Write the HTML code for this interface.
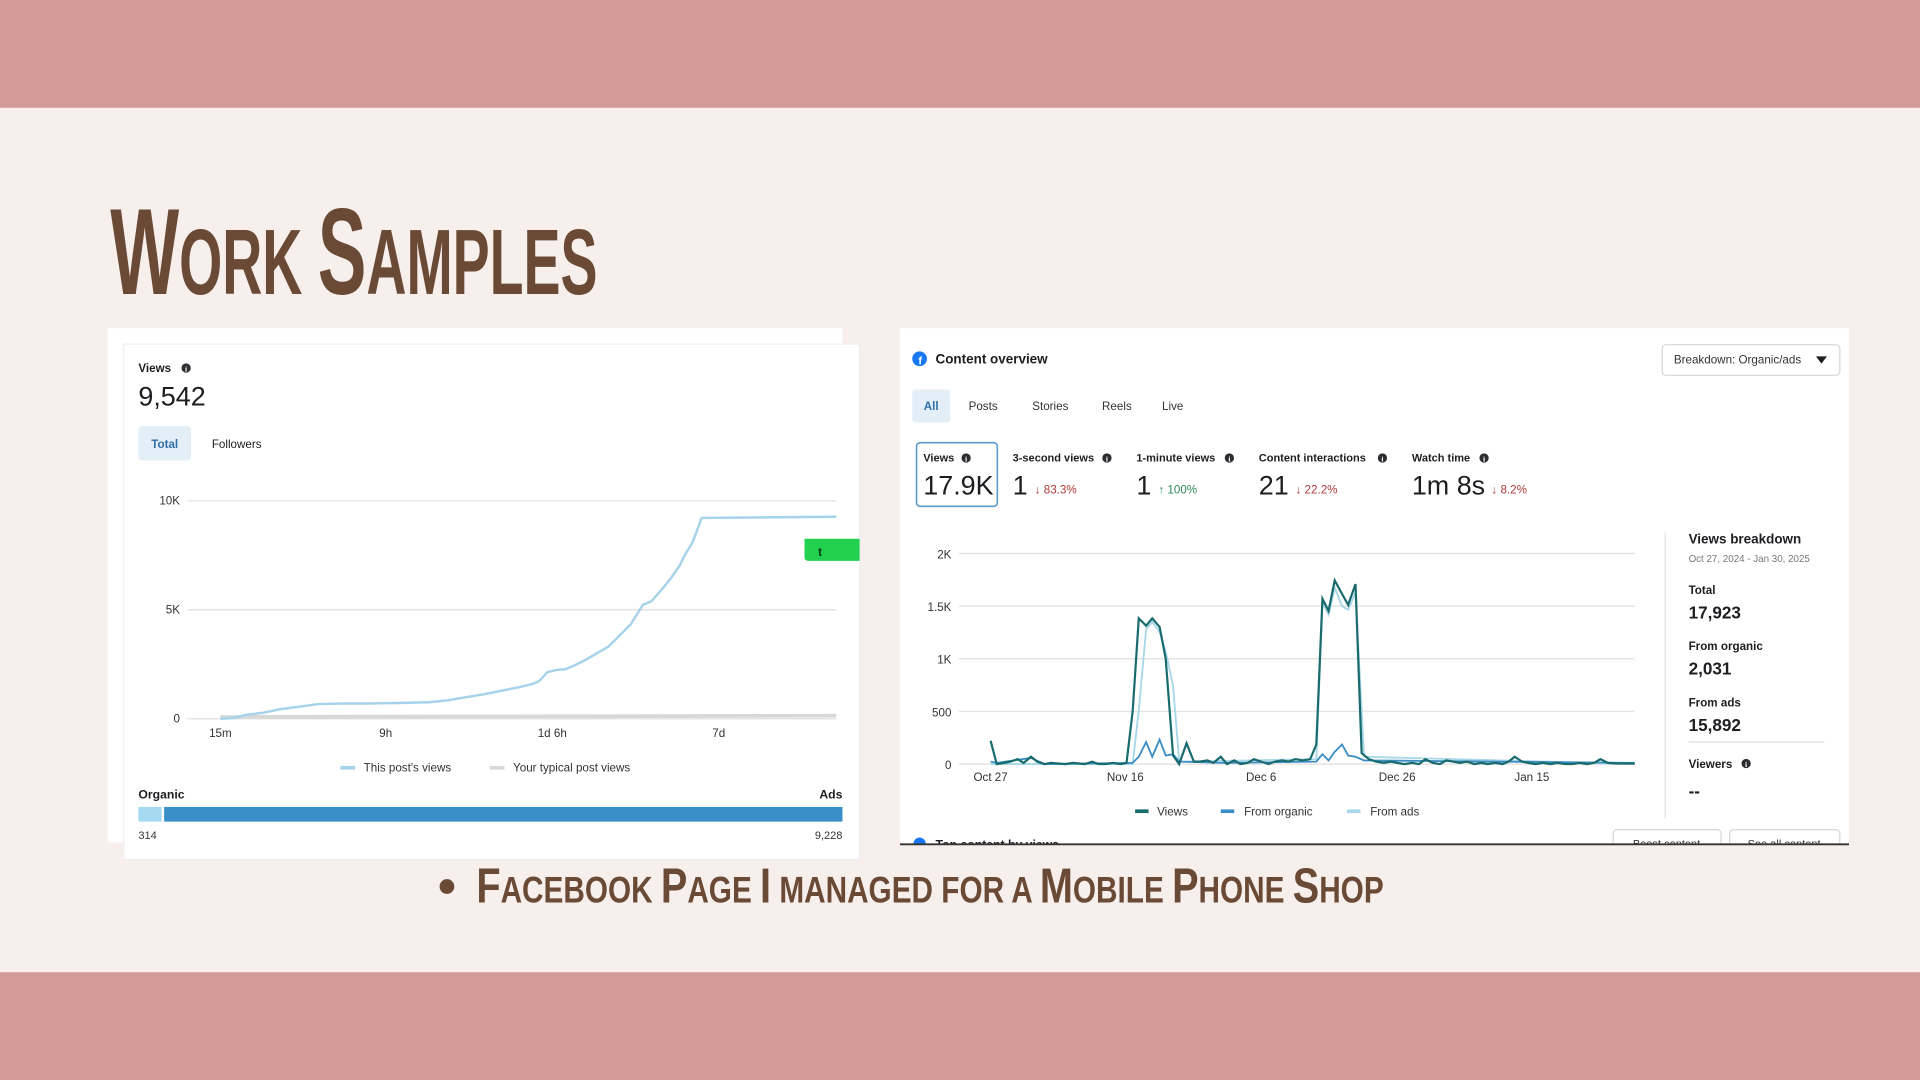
<!DOCTYPE html>
<html><head><meta charset="utf-8"><style>
html,body{margin:0;padding:0;background:#f7efec;}
svg{display:block;}
text{font-family:"Liberation Sans",sans-serif;}
</style></head><body>
<svg width="1920" height="1080" viewBox="0 0 1568 882" xmlns="http://www.w3.org/2000/svg">
<defs>
<symbol id="info" viewBox="-5 -5 10 10"><circle r="4.2" fill="#2b2d31"/><text x="0" y="3" font-size="7" fill="#fff" text-anchor="middle" font-weight="bold" style="font-family:'Liberation Serif',serif">i</text></symbol>
</defs>
<rect width="1568" height="882" fill="#f7efec"/>
<rect width="1568" height="88" fill="#d49a98"/>
<rect y="794" width="1568" height="88" fill="#d49a98"/>

<text x="90" y="240" fill="#6a4a35" font-weight="bold" textLength="398" lengthAdjust="spacingAndGlyphs" style="font-family:'Liberation Sans Narrow','Liberation Sans',sans-serif"><tspan font-size="100">W</tspan><tspan font-size="76">ORK </tspan><tspan font-size="100">S</tspan><tspan font-size="76">AMPLES</tspan></text>

<rect x="88" y="268" width="600" height="420" fill="#fff"/>
<rect x="101" y="281" width="601" height="421" fill="#fff" stroke="#eeeef2" stroke-width="1"/>
<text x="113" y="304" font-size="9.5" font-weight="bold" fill="#1c1e21">Views</text>
<use href="#info" x="147.5" y="296" width="9" height="9"/>
<text x="113" y="331" font-size="22" fill="#1c1e21">9,542</text>
<rect x="113" y="348" width="43" height="28" rx="3" fill="#e4eef7"/>
<text x="134.5" y="366" font-size="9.5" font-weight="bold" fill="#2f6fab" text-anchor="middle">Total</text>
<text x="173" y="366" font-size="9.5" fill="#1c1e21">Followers</text>
<g stroke="#e4e4e4" stroke-width="1.2">
<line x1="153" y1="409" x2="683" y2="409"/><line x1="153" y1="498" x2="683" y2="498"/><line x1="153" y1="587" x2="683" y2="587"/>
</g>
<g font-size="9.5" fill="#333" text-anchor="end"><text x="147" y="412">10K</text><text x="147" y="501">5K</text><text x="147" y="590">0</text></g>
<g font-size="9.5" fill="#333" text-anchor="middle"><text x="180" y="602">15m</text><text x="315" y="602">9h</text><text x="451" y="602">1d 6h</text><text x="587" y="602">7d</text></g>
<line x1="180" y1="585.5" x2="683" y2="584.5" stroke="#d8d8d8" stroke-width="3"/>
<polyline fill="none" stroke="#a6d3ea" stroke-width="2" points="180,587 190,586.5 200,584 215,582 230,579 245,577 260,575 280,574.5 300,574.5 330,574 350,573.5 365,572 380,569.5 395,567 410,564 425,561 435,558.5 440,556.5 447,549 455,547 462,546.5 470,543 478,539 490,532 497,528 505,520 515,510 525,494 532,491 540,482 548,472 555,462 560,452 565,444 569,434 573,423 683,422"/>
<path d="M657,440 H702 V458 H660 Q657,458 657,455 Z" fill="#22d14f"/>
<text x="668" y="454" font-size="10" fill="#0a3d15" font-weight="bold">t</text>
<rect x="278" y="625.5" width="12" height="3" fill="#a6d3ea"/>
<text x="297" y="630" font-size="9.5" fill="#333">This post's views</text>
<rect x="400" y="625.5" width="12" height="3" fill="#d8d8d8"/>
<text x="419" y="630" font-size="9.5" fill="#333">Your typical post views</text>
<text x="113" y="652" font-size="10" font-weight="bold" fill="#1c1e21">Organic</text>
<text x="688" y="652" font-size="10" font-weight="bold" fill="#1c1e21" text-anchor="end">Ads</text>
<rect x="113" y="659" width="19" height="12" fill="#a6d8f0"/>
<rect x="134" y="659" width="554" height="12" fill="#3a8fc8"/>
<text x="113" y="685" font-size="9" fill="#333">314</text>
<text x="688" y="685" font-size="9" fill="#333" text-anchor="end">9,228</text>

<rect x="735" y="268" width="775" height="421" fill="#fff"/>
<circle cx="751" cy="293" r="6" fill="#1877f2"/><text x="751.5" y="297.5" font-size="9" font-weight="bold" fill="#fff" text-anchor="middle">f</text>
<text x="764" y="297" font-size="11" font-weight="bold" fill="#1c1e21">Content overview</text>
<rect x="1357.5" y="281.5" width="145" height="25" rx="3" fill="#fff" stroke="#d6d6d6"/>
<text x="1367" y="297" font-size="9.5" fill="#333">Breakdown: Organic/ads</text>
<path d="M1483,291 h9 l-4.5,6 z" fill="#1c1e21"/>
<rect x="745" y="318" width="31" height="27" rx="3" fill="#e4eef7"/>
<text x="760.5" y="335" font-size="9.5" fill="#2f6fab" text-anchor="middle" font-weight="bold">All</text>
<g font-size="9.5" fill="#333"><text x="791" y="335">Posts</text><text x="843" y="335">Stories</text><text x="900" y="335">Reels</text><text x="949" y="335">Live</text></g>
<rect x="748.5" y="361.5" width="66" height="52" rx="3" fill="#fff" stroke="#5a9bc9" stroke-width="1.3"/>
<g font-size="9" font-weight="bold" fill="#1c1e21"><text x="754" y="377">Views</text><text x="827" y="377">3-second views</text><text x="928" y="377">1-minute views</text><text x="1028" y="377">Content interactions</text><text x="1153" y="377">Watch time</text></g>
<use href="#info" x="784.5" y="369.5" width="9" height="9"/>
<use href="#info" x="899.5" y="369.5" width="9" height="9"/>
<use href="#info" x="999.5" y="369.5" width="9" height="9"/>
<use href="#info" x="1124.5" y="369.5" width="9" height="9"/>
<use href="#info" x="1207.5" y="369.5" width="9" height="9"/>
<g font-size="22" fill="#1c1e21"><text x="754" y="404">17.9K</text><text x="827" y="404">1</text><text x="928" y="404">1</text><text x="1028" y="404">21</text><text x="1153" y="404">1m 8s</text></g>
<g font-size="9.5" fill="#b23a3a"><text x="845" y="403">↓ 83.3%</text><text x="1058" y="403">↓ 22.2%</text><text x="1218" y="403">↓ 8.2%</text></g>
<text x="946" y="403" font-size="9.5" fill="#2e8b57">↑ 100%</text>
<g stroke="#e4e4e4" stroke-width="1.2">
<line x1="783" y1="452" x2="1335" y2="452"/><line x1="783" y1="495" x2="1335" y2="495"/><line x1="783" y1="538" x2="1335" y2="538"/><line x1="783" y1="581" x2="1335" y2="581"/><line x1="783" y1="624" x2="1335" y2="624"/>
</g>
<g font-size="9.5" fill="#333" text-anchor="end"><text x="777" y="456">2K</text><text x="777" y="499">1.5K</text><text x="777" y="542">1K</text><text x="777" y="585">500</text><text x="777" y="628">0</text></g>
<g font-size="9.5" fill="#333" text-anchor="middle"><text x="809" y="638">Oct 27</text><text x="919" y="638">Nov 16</text><text x="1030" y="638">Dec 6</text><text x="1141" y="638">Dec 26</text><text x="1251" y="638">Jan 15</text></g>
<polyline fill="none" stroke="#a7d7e8" stroke-width="1.5" points="809,624 925,624 930,580 936,514 941,508 947,516 952,532 958,560 963,622 1075,620 1080,492 1085,502 1090,480 1096,495 1101,498 1107,484 1114,618 1335,624"/>
<polyline fill="none" stroke="#3d8ec4" stroke-width="1.5" points="809,622 814,623 842,619 853,624 925,623 930,618 936,606 941,618 947,604 952,617 958,616 963,622 1000,623 1075,622 1080,616 1085,621 1090,614 1096,608 1101,617 1107,618 1114,621 1335,623"/>
<polyline fill="none" stroke="#1a6b6e" stroke-width="1.8" points="809,605 814,624 820,623 825,622 831,620 836,623 842,618 847,622 853,624 858,623 864,623.5 870,624 876,623 881,623.5 886,624 892,622 897,624 903,624 909,623 915,624 920,623 925,581 930,505 936,511 941,505 947,512 952,538 958,617 963,624 969,607 975,622 980,622 986,621 991,623 997,618 1002,624 1008,621 1013,624 1019,623 1024,620 1030,622 1036,624 1041,622 1047,621 1052,622 1058,620 1064,621 1070,620 1075,608 1080,489 1085,499 1090,474 1096,485 1101,494 1107,477 1112,615 1118,620 1124,622 1130,623 1136,622 1141,623 1147,624 1153,623 1159,624 1164,620 1170,623 1176,624 1181,621 1187,622 1192,623 1198,622 1204,624 1210,623 1215,624 1221,623 1227,624 1232,622 1237,618 1243,622 1248,623 1254,624 1260,623 1266,624 1272,623 1278,624 1284,624 1290,623 1296,624 1302,623 1307,620 1313,623 1320,623.5 1335,623.5"/>
<line x1="1360" y1="435" x2="1360" y2="668" stroke="#e0e0e0"/>
<text x="1379" y="444" font-size="11" font-weight="bold" fill="#1c1e21">Views breakdown</text>
<text x="1379" y="459" font-size="8" fill="#777">Oct 27, 2024 - Jan 30, 2025</text>
<g font-size="9.5" font-weight="bold" fill="#1c1e21"><text x="1379" y="485">Total</text><text x="1379" y="531">From organic</text><text x="1379" y="577">From ads</text><text x="1379" y="627">Viewers</text></g>
<use href="#info" x="1421.5" y="619" width="9" height="9"/>
<g font-size="14" font-weight="bold" fill="#1c1e21"><text x="1379" y="505">17,923</text><text x="1379" y="551">2,031</text><text x="1379" y="597">15,892</text><text x="1379" y="651">--</text></g>
<line x1="1379" y1="606" x2="1490" y2="606" stroke="#ddd"/>
<rect x="927" y="661" width="11" height="3" fill="#1a6b6e"/><text x="945" y="666" font-size="9.5" fill="#333">Views</text>
<rect x="997" y="661" width="11" height="3" fill="#3d8ec4"/><text x="1016" y="666" font-size="9.5" fill="#333">From organic</text>
<rect x="1100" y="661" width="11" height="3" fill="#a7d7e8"/><text x="1119" y="666" font-size="9.5" fill="#333">From ads</text>
<circle cx="751" cy="689" r="5" fill="#1877f2"/>
<text x="764" y="693" font-size="10" font-weight="bold" fill="#1c1e21">Top content by views</text>
<rect x="1317.5" y="677.5" width="88" height="20" rx="3" fill="#fff" stroke="#d6d6d6"/>
<rect x="1412.5" y="677.5" width="90" height="20" rx="3" fill="#fff" stroke="#d6d6d6"/>
<text x="1361" y="692" font-size="9" fill="#333" text-anchor="middle">Boost content</text>
<text x="1457" y="692" font-size="9" fill="#333" text-anchor="middle">See all content</text>
<rect x="735" y="690" width="780" height="20" fill="#f7efec"/>
<line x1="735" y1="689.5" x2="1510" y2="689.5" stroke="#333" stroke-width="1.5"/>

<circle cx="365" cy="724" r="6" fill="#6a4a35"/>
<text x="389" y="737" fill="#6a4a35" font-weight="bold" textLength="741" lengthAdjust="spacingAndGlyphs" style="font-family:'Liberation Sans Narrow','Liberation Sans',sans-serif"><tspan font-size="40">F</tspan><tspan font-size="30">ACEBOOK </tspan><tspan font-size="40">P</tspan><tspan font-size="30">AGE </tspan><tspan font-size="40">I</tspan><tspan font-size="30"> MANAGED FOR A </tspan><tspan font-size="40">M</tspan><tspan font-size="30">OBILE </tspan><tspan font-size="40">P</tspan><tspan font-size="30">HONE </tspan><tspan font-size="40">S</tspan><tspan font-size="30">HOP</tspan></text>
</svg>
</body></html>
